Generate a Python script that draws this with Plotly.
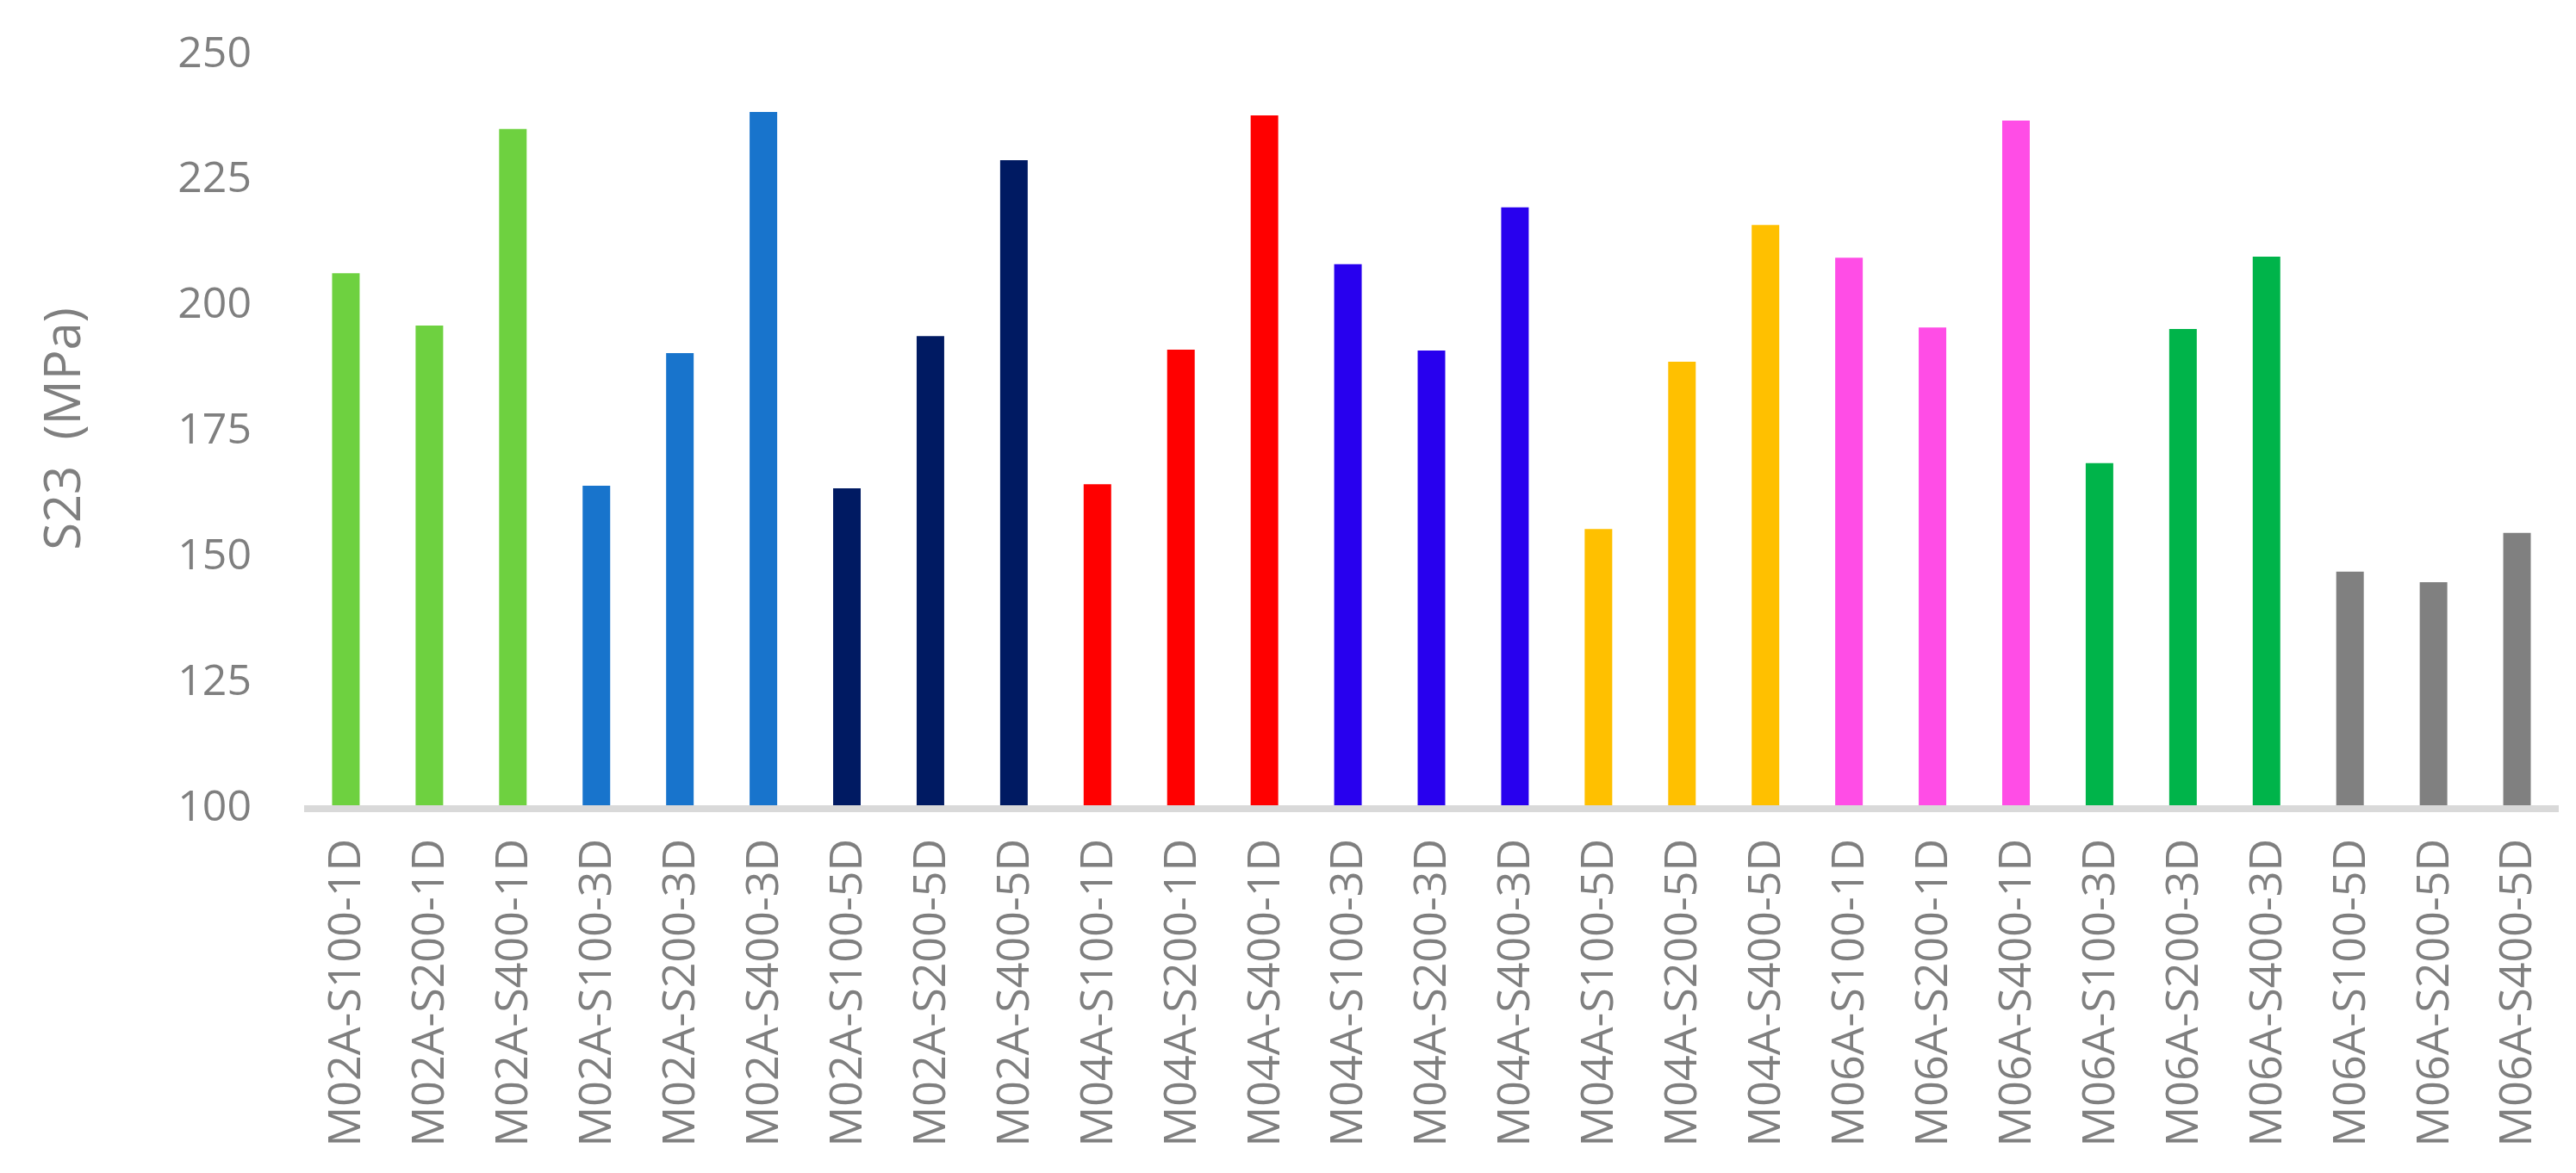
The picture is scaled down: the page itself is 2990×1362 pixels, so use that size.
import plotly.graph_objects as go

samples = ["M02A-S100-1D", "M02A-S200-1D", "M02A-S400-1D",
           "M02A-S100-3D", "M02A-S200-3D", "M02A-S400-3D",
           "M02A-S100-5D", "M02A-S200-5D", "M02A-S400-5D",
           "M04A-S100-1D", "M04A-S200-1D", "M04A-S400-1D",
           "M04A-S100-3D", "M04A-S200-3D", "M04A-S400-3D",
           "M04A-S100-5D", "M04A-S200-5D", "M04A-S400-5D",
           "M06A-S100-1D", "M06A-S200-1D", "M06A-S400-1D",
           "M06A-S100-3D", "M06A-S200-3D", "M06A-S400-3D",
           "M06A-S100-5D", "M06A-S200-5D", "M06A-S400-5D"]

s23 = [205.9, 195.5, 234.6,
       163.6, 190.0, 238.0,
       163.1, 193.4, 228.4,
       163.9, 190.7, 237.3,
       207.7, 190.5, 219.0,
       155.0, 188.3, 215.5,
       209.0, 195.1, 236.3,
       168.1, 194.8, 209.2,
       146.5, 144.4, 154.2]

# one colour per group of three bars
group_colors = ["#6ED140", "#1874CC", "#001A62",
                "#FF0000", "#2800EE", "#FFC000",
                "#FF4DE6", "#00B44A", "#808080"]
bar_colors = [c for c in group_colors for _ in range(3)]

yticks = [100, 125, 150, 175, 200, 225, 250]

gray = "#7F7F7F"

fig = go.Figure(go.Bar(
    x=samples,
    y=s23,
    marker=dict(color=bar_colors, line=dict(width=0)),
    showlegend=False,
))

fig.update_layout(
    width=2990, height=1362,
    margin=dict(l=345, r=28, t=52, b=435),
    paper_bgcolor="white",
    plot_bgcolor="white",
    bargap=0.67,
    font=dict(family="Open Sans", size=52, color=gray),
)

fig.update_xaxes(
    tickangle=-90,
    showgrid=False,
    showline=True, linecolor="#D9D9D9", linewidth=8,
    ticks="",
    ticklabelstandoff=10,
    tickfont=dict(family="Open Sans", size=52, color=gray),
)

fig.update_yaxes(
    range=[100, 250],
    tickvals=yticks,
    showgrid=False,
    showline=False,
    zeroline=False,
    ticks="",
    ticklabelstandoff=60,
    tickfont=dict(family="Open Sans", size=50, color=gray),
)

fig.add_annotation(
    text="S23  (MPa)",
    xref="paper", yref="paper",
    x=-0.108, y=0.5,
    xanchor="center", yanchor="middle",
    textangle=-90,
    showarrow=False,
    font=dict(family="Open Sans", size=58, color=gray),
)

fig.write_html("out.html")
